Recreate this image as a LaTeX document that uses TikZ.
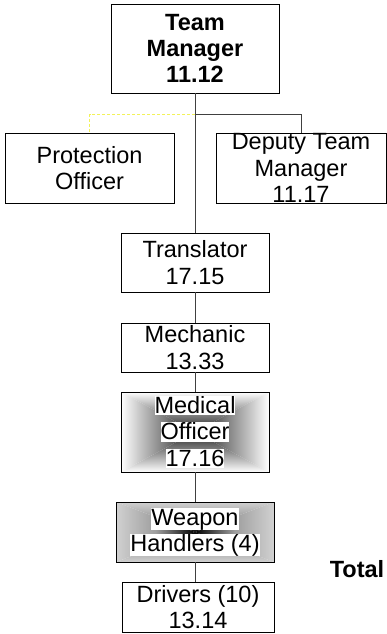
\documentclass[tikz,border=0pt]{standalone}
\usepackage{fontspec}
\setmainfont{Liberation Sans}
\usetikzlibrary{calc}

\definecolor{linegray}{rgb}{0.25,0.25,0.25}
\definecolor{dashyellow}{rgb}{0.95,0.95,0.35}
\definecolor{edgegray}{rgb}{0.82,0.82,0.82}
\definecolor{midgray}{rgb}{0.62,0.62,0.62}
\definecolor{medmid}{rgb}{0.56,0.56,0.56}
\definecolor{medcore}{rgb}{0.12,0.12,0.12}

\setlength{\fboxsep}{0pt}
\newcommand{\hlbox}[1]{\colorbox{white}{\rule[-0.08em]{0pt}{0.82em}#1}}

\tikzset{
  box/.style={draw=black, line width=0.9pt, rectangle, inner sep=0pt, align=center,
    font=\fontsize{23.5}{26.3}\selectfont, fill=white},
  link/.style={draw=linegray, line width=0.9pt},
  dashlink/.style={draw=dashyellow, line width=0.9pt, dash pattern=on 3pt off 2pt},
  % rectangular gradient from the edges into the centre
  pyramid/.style n args={3}{fill=none, path picture={
      \coordinate (nw) at (path picture bounding box.north west);
      \coordinate (ne) at (path picture bounding box.north east);
      \coordinate (sw) at (path picture bounding box.south west);
      \coordinate (se) at (path picture bounding box.south east);
      \coordinate (cc) at (path picture bounding box.center);
      \shade[top color=#1, bottom color=#3, middle color=#2] (nw) -- (ne) -- (cc) -- cycle;
      \shade[bottom color=#1, top color=#3, middle color=#2] (sw) -- (se) -- (cc) -- cycle;
      \shade[left color=#1, right color=#3, middle color=#2] (nw) -- (sw) -- (cc) -- cycle;
      \shade[right color=#1, left color=#3, middle color=#2] (ne) -- (se) -- (cc) -- cycle;
    }},
}

\begin{document}
\begin{tikzpicture}[x=1pt, y=-1pt]
  \useasboundingbox (0,0) rectangle (387,634);

  \node[box, minimum width=168, minimum height=89, font=\fontsize{23.5}{26.3}\selectfont\bfseries]
    (tm) at (195,48.5) {Team\\Manager\\11.12};
  \node[box, minimum width=169, minimum height=70] (po) at (89.5,168) {Protection\\Officer};
  \node[box, minimum width=170, minimum height=70] (dtm) at (301,168) {Deputy Team\\Manager\\11.17};

  \node[box, minimum width=148, minimum height=59] (tr) at (195,262.5) {Translator\\17.15};
  \node[box, minimum width=148, minimum height=49] (mech) at (195,347.5) {Mechanic\\13.33};
  \node[box, pyramid={white}{medmid}{medcore}, minimum width=148, minimum height=80]
    (med) at (195,432) {\hlbox{Medical}\\\hlbox{Officer}\\\hlbox{17.16}};
  \node[box, pyramid={edgegray}{midgray}{black}, minimum width=158, minimum height=60]
    (wh) at (195,532) {\hlbox{Weapon}\\\hlbox{Handlers (4)}};
  \node[box, minimum width=152, minimum height=50] (drv) at (198,607) {Drivers (10)\\13.14};

  \node[font=\fontsize{23.5}{26.3}\selectfont\bfseries, inner sep=0pt] (tot) at (357,569) {Total};

  % connectors
  \coordinate (br) at (195,114);
  \draw[dashlink] (br) -| (po.north);
  \draw[link] (br) -| (dtm.north);
  \draw[link] (tm.south) -- (tr.north);
  \draw[link] (tr.south) -- (mech.north);
  \draw[link] (mech.south) -- (med.north);
  \draw[link] (med.south) -- (wh.north);
  \draw[link] (wh.south) -- (wh.south |- drv.north);
\end{tikzpicture}
\end{document}
